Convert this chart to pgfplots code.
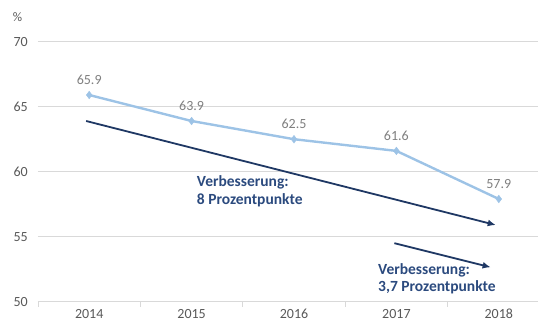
\documentclass[border=0pt]{standalone}
\usepackage{pgfplots}
\pgfplotsset{compat=1.18}
\usepackage{fontspec}
\setmainfont{Carlito}
\usetikzlibrary{arrows.meta}
\definecolor{lblue}{HTML}{9DC3E6}
\definecolor{navy}{HTML}{1F3864}
\definecolor{tnavy}{HTML}{2B4A7E}
\definecolor{tgrey}{HTML}{595959}
\definecolor{dgrey}{HTML}{7F7F7F}
\definecolor{gridc}{HTML}{D9D9D9}
\begin{document}
\begin{tikzpicture}[x=1pt,y=1pt]
\begin{axis}[
  at={(38pt,20.3pt)}, anchor=south west,
  scale only axis, width=512pt, height=260pt,
  xmin=-0.5, xmax=4.5, ymin=50, ymax=70,
  axis x line*=bottom, axis y line*=left,
  x axis line style={gridc, line width=0.8pt, -},
  y axis line style={draw=none, -},
  xtick={0,1,2,3,4}, xticklabels={2014,2015,2016,2017,2018},
  ytick={50,55,60,65,70},
  ymajorgrids, grid style={gridc, line width=0.8pt},
  major tick length=0pt,
  minor xtick={-0.5,0.5,1.5,2.5,3.5,4.5},
  minor tick length=5pt, tick align=outside,
  minor x tick style={gridc, line width=0.8pt},
  /pgf/number format/assume math mode=true,
  ticklabel style={font=\fontsize{14}{16}\selectfont, text=tgrey},
  yticklabel style={anchor=east, inner sep=0pt, xshift=-10pt},
  xticklabel style={anchor=base, inner sep=0pt, yshift=-16.8pt},
  clip=false,
]
\addplot[lblue, line width=2.4pt, mark=diamond*, mark size=3.8pt,
  mark options={fill=lblue, draw=lblue, line width=0.4pt},
  point meta=explicit symbolic,
  nodes near coords,
  nodes near coords style={font=\fontsize{14}{16}\selectfont, text=dgrey, anchor=center, yshift=15pt}]
  coordinates {(0,65.9)[65.9] (1,63.9)[63.9] (2,62.5)[62.5] (3,61.6)[61.6] (4,57.9)[57.9]};
\addplot[navy, line width=1.8pt, -{Latex[length=8pt,width=7pt]}]
  coordinates {(-0.03,63.9) (3.97,55.9)};
\addplot[navy, line width=1.8pt, -{Latex[length=8pt,width=7pt]}]
  coordinates {(2.98,54.5) (3.92,52.65)};
\node[anchor=west, align=left, inner sep=0pt, text=tnavy,
  font=\bfseries\fontsize{15.5}{17.5}\selectfont] at (axis cs:1.05,58.48)
  {Verbesserung:\\8 Prozentpunkte};
\node[anchor=west, align=left, inner sep=0pt, text=tnavy,
  font=\bfseries\fontsize{15.5}{17.5}\selectfont] at (axis cs:2.82,51.78)
  {Verbesserung:\\3,7 Prozentpunkte};
\node[text=tgrey, font=\fontsize{13}{15}\selectfont] at (axis cs:-0.70,71.9) {\%};
\end{axis}
\pgfresetboundingbox
\path[use as bounding box] (0,0) rectangle (538,322);
\end{tikzpicture}
\end{document}
